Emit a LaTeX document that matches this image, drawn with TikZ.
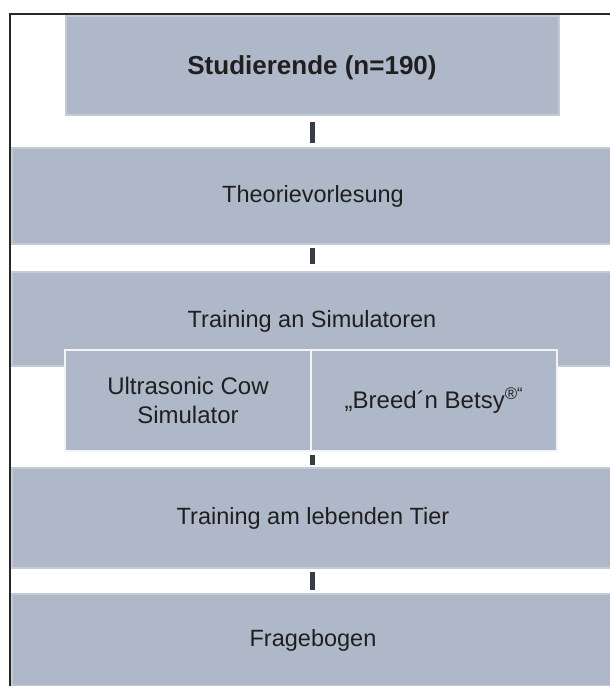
\documentclass[tikz,border=0pt]{standalone}
\usepackage{fontspec}
\setmainfont{Liberation Sans}
\definecolor{boxfill}{RGB}{174,184,200}
\definecolor{boxedge}{RGB}{196,203,215}
\definecolor{conn}{RGB}{55,60,70}
\definecolor{framec}{RGB}{40,40,40}
\tikzset{
  box/.style={fill=boxfill, draw=boxedge, line width=1.2pt, inner sep=0pt, align=center,
    font=\fontsize{23.5}{29}\selectfont, text=black!88},
  subbox/.style={box, draw=white!85!boxfill, line width=2pt, font=\fontsize{24}{29}\selectfont},
  link/.style={draw=conn, line width=5pt, shorten <=5pt, shorten >=4pt},
  frame/.style={draw=framec, line width=1.3pt}
}
\begin{document}
\begin{tikzpicture}[x=1pt,y=-1pt]
\useasboundingbox (0,0) rectangle (610,686);
\clip (0,0) rectangle (610,686);
\fill[white] (0,0) rectangle (610,686);
\draw[frame] (10,14) rectangle (650,720);
\node[box, minimum width=493pt, minimum height=99pt] (b1) at (312.5,65.5) {};
\node[font=\fontsize{26}{29}\selectfont\bfseries, text=black!88] (b1t) at (312,68) {Studierende (n=190)};
\node[box, minimum width=602pt, minimum height=96pt] (b2) at (313,196) {Theorievorlesung};
\node[box, minimum width=602pt, minimum height=94pt] (b3) at (313,319) {};
\node[font=\fontsize{23.5}{29}\selectfont, text=black!88] (b3t) at (312,321) {Training an Simulatoren};
\node[subbox, minimum width=246pt, minimum height=101pt] (u) at (188,400.5) {Ultrasonic Cow\\Simulator};
\node[subbox, minimum width=246pt, minimum height=101pt] (bb) at (434,400.5) {„Breed´n Betsy\textsuperscript{®“}};
\node[box, minimum width=602pt, minimum height=100pt] (b4) at (313,518) {Training am lebenden Tier};
\node[box, minimum width=602pt, minimum height=92pt] (b5) at (313,640) {Fragebogen};
\coordinate (c1) at (312,115);
\draw[link, shorten <=7pt] (c1) -- (c1 |- b2.north);
\draw[link, shorten <=3pt, shorten >=7pt] (b2.south -| c1) -- (b3.north -| c1);
\draw[link, shorten <=3pt, shorten >=2pt] (u.south east) -- (u.south east |- b4.north);
\draw[link, shorten <=3pt, shorten >=3pt] (b4.south -| c1) -- (b5.north -| c1);
\end{tikzpicture}
\end{document}
